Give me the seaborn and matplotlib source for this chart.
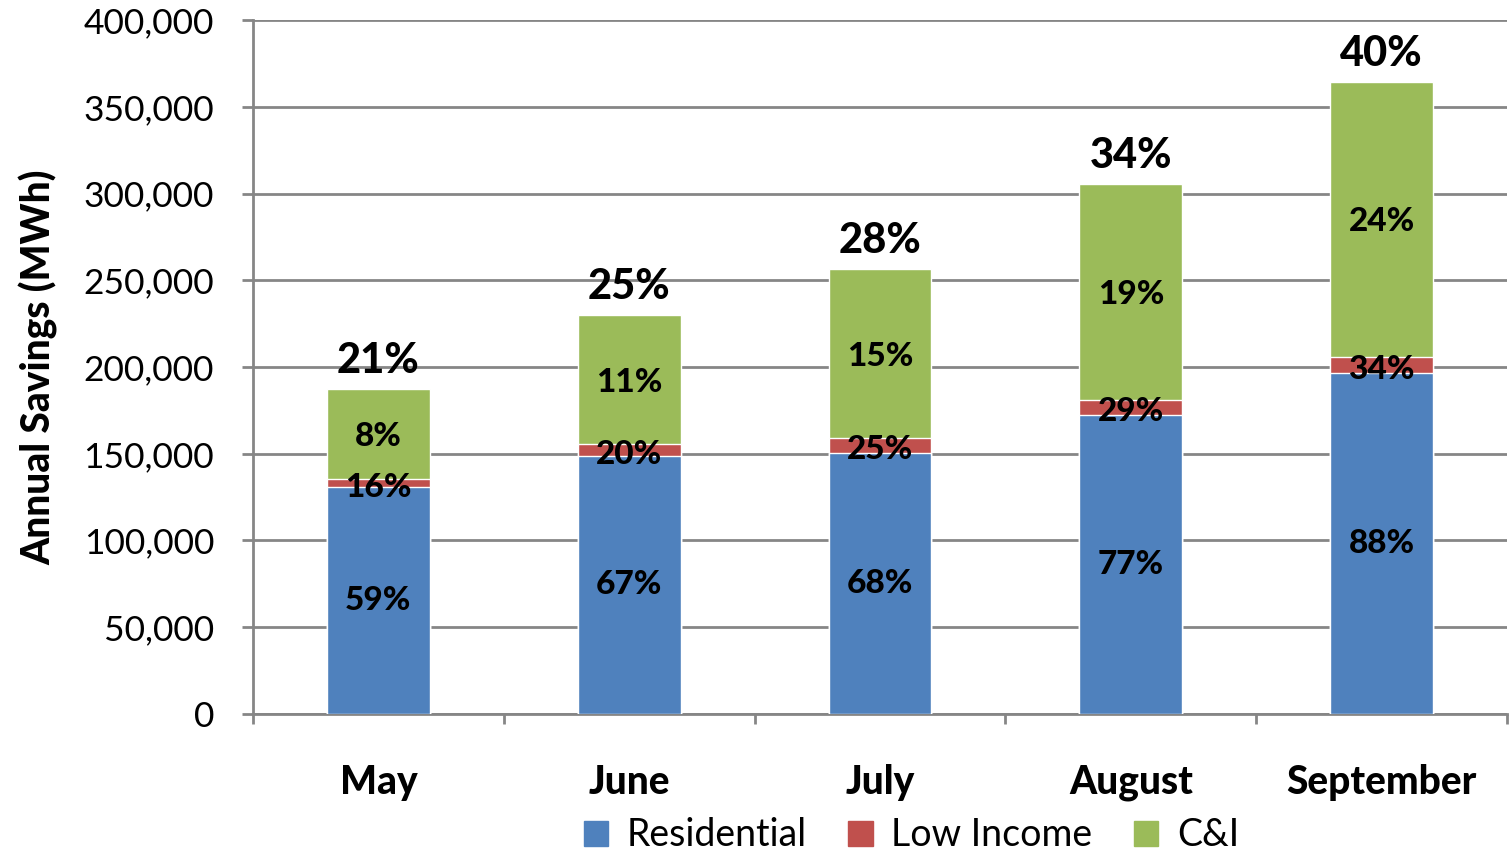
import pandas as pd
import numpy as np
import matplotlib
matplotlib.use("Agg")
import matplotlib.pyplot as plt
import seaborn as sns
from matplotlib.patches import Patch

# data
months = ["May", "June", "July", "August", "September"]
residential = [130700, 148900, 150600, 172300, 196400]
low_income = [4900, 6700, 8300, 8700, 9500]
ci = [52000, 74400, 97600, 124500, 158400]

res_pct = ["59%", "67%", "68%", "77%", "88%"]
li_pct = ["16%", "20%", "25%", "29%", "34%"]
ci_pct = ["8%", "11%", "15%", "19%", "24%"]
total_pct = ["21%", "25%", "28%", "34%", "40%"]

df = pd.DataFrame({"month": months, "res": residential, "li": low_income, "ci": ci})
df["res_li"] = df["res"] + df["li"]
df["total"] = df["res_li"] + df["ci"]

BLUE, RED, GREEN = "#4F81BD", "#C0504D", "#9BBB59"
GRID = "#868686"

sns.set_style("white")
plt.rcParams["font.family"] = ["Lato", "DejaVu Sans"]
plt.rcParams["text.color"] = "black"
plt.rcParams["axes.labelcolor"] = "black"
plt.rcParams["xtick.color"] = "black"
plt.rcParams["ytick.color"] = "black"

fig = plt.figure(figsize=(15.09, 8.56), dpi=100)
ax = fig.add_axes([0.1677, 0.1659, 0.8310, 0.8107])

# stacked bars: draw cumulative totals back to front
sns.barplot(data=df, x="month", y="total", color=GREEN, width=0.41, saturation=1, ax=ax, zorder=3)
sns.barplot(data=df, x="month", y="res_li", color=RED, width=0.41, saturation=1, ax=ax, zorder=3)
sns.barplot(data=df, x="month", y="res", color=BLUE, width=0.41, saturation=1, ax=ax, zorder=3)

# labels
for i in range(len(months)):
    r, rl, t = df["res"][i], df["res_li"][i], df["total"][i]
    ax.text(i, r / 2, res_pct[i], ha="center", va="center", fontsize=24, fontweight="black", zorder=5)
    ax.text(i, (r + rl) / 2 - 2500, li_pct[i], ha="center", va="center", fontsize=24, fontweight="black", zorder=5)
    ax.text(i, (rl + t) / 2 - 1500, ci_pct[i], ha="center", va="center", fontsize=24, fontweight="black", zorder=5)
    ax.text(i, t + 5000, total_pct[i], ha="center", va="bottom", fontsize=30, fontweight="black", zorder=5)

ax.set_xlim(-0.5, 4.5)
ax.set_ylim(0, 400000)
ax.set_yticks(np.arange(0, 400001, 50000))
ax.set_yticklabels([f"{v:,}" for v in range(0, 400001, 50000)], fontsize=25.5)
ax.yaxis.grid(True, color=GRID, linewidth=2, zorder=0)
ax.set_axisbelow(True)

# category ticks at boundaries, month names in between
ax.set_xticks(np.arange(-0.5, 4.6, 1))
ax.set_xticklabels([])
ax.set_xticks(np.arange(0, 5), minor=True)
ax.set_xticklabels(months, minor=True, fontsize=28, fontweight="black")
ax.tick_params(axis="x", which="major", direction="out", length=7, width=2, color=GRID, bottom=True)
ax.tick_params(axis="x", which="minor", length=0, pad=36)
ax.tick_params(axis="y", direction="out", length=8, width=2, color=GRID, left=True, pad=20)

ax.set_xlabel("")
ax.set_ylabel("Annual Savings (MWh)", fontsize=28, fontweight="black", labelpad=18)

for s in ["top", "right"]:
    ax.spines[s].set_visible(False)
for s in ["left", "bottom"]:
    ax.spines[s].set_color(GRID)
    ax.spines[s].set_linewidth(2)

handles = [Patch(color=BLUE, label="Residential"),
           Patch(color=RED, label="Low Income"),
           Patch(color=GREEN, label="C&I")]
fig.legend(handles=handles, loc="center", bbox_to_anchor=(0.604, 0.024), ncol=3, frameon=False,
           fontsize=27, handlelength=0.65, handleheight=0.65, handletextpad=0.5, columnspacing=1.1,
           borderpad=0)

fig.savefig("out.png", dpi=100)
